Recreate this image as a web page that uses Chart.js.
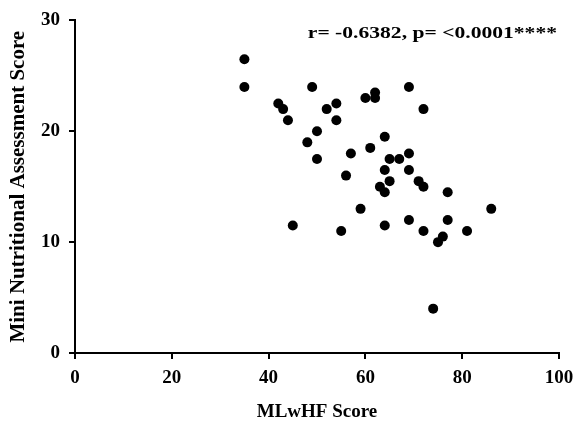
<!DOCTYPE html>
<html>
<head>
<meta charset="utf-8">
<script src="https://cdn.jsdelivr.net/npm/chart.js@4"></script>
<style>
  html, body { margin: 0; padding: 0; background: #fff; }
  #wrap { width: 573px; height: 423px; position: relative; }
</style>
</head>
<body>
<div id="wrap"><canvas id="scatterChart"></canvas></div>
<script>
// MLwHF score (x) vs Mini Nutritional Assessment score (y)
const mlwhfScores = [35, 35, 49, 42, 43, 44, 52, 54, 54, 60, 50, 48, 50, 57, 56, 61,
    62, 62, 69, 72, 64, 65, 67, 69, 64, 69, 65, 71, 63, 64, 72, 77,
    59, 86, 64, 69, 72, 77, 81, 76, 75, 74, 45, 55];
const mnaScores = [26.5, 24, 24, 22.5, 22, 21, 22, 22.5, 21, 23, 20, 19, 17.5, 18, 16, 18.5,
    23.5, 23, 24, 22, 19.5, 17.5, 17.5, 18, 16.5, 16.5, 15.5, 15.5, 15, 14.5, 15, 14.5,
    13, 13, 11.5, 12, 11, 12, 11, 10.5, 10, 4, 11.5, 11];
const xTicks = [0, 20, 40, 60, 80, 100];
const yTicks = [0, 10, 20, 30];
const statsLabel = 'r= -0.6382, p= <0.0001****';

const serif = '"Liberation Serif", "DejaVu Serif", serif';

// draws the correlation text in the top right corner of the plot (stretched a bit sideways like the original)
const statsText = {
    id: 'statsText',
    afterDraw(chart) {
        const { ctx, chartArea } = chart;
        ctx.save();
        ctx.font = 'bold 17px ' + serif;
        ctx.fillStyle = '#000';
        ctx.textAlign = 'right';
        ctx.textBaseline = 'alphabetic';
        ctx.translate(chartArea.right - 2, chartArea.top + 18);
        ctx.scale(1.27, 1);
        ctx.fillText(statsLabel, 0, 0);
        ctx.restore();
    }
};

document.addEventListener('DOMContentLoaded', () => {
    const ctx = document.getElementById('scatterChart').getContext('2d');
    new Chart(ctx, {
        type: 'scatter',
        data: {
            datasets: [{
                data: mlwhfScores.map((x, i) => ({ x: x, y: mnaScores[i] })),
                backgroundColor: '#000',
                borderColor: '#000',
                borderWidth: 0,
                pointRadius: 5,
                pointHoverRadius: 5
            }]
        },
        options: {
            responsive: true,
            maintainAspectRatio: false,
            animation: false,
            layout: { padding: { left: 0, right: 0, top: 20, bottom: 0 } },
            plugins: {
                legend: { display: false },
                tooltip: { enabled: false }
            },
            scales: {
                x: {
                    type: 'linear',
                    min: 0,
                    max: 100,
                    afterBuildTicks: (axis) => { axis.ticks = xTicks.map(v => ({ value: v })); },
                    afterFit: (axis) => {
                        axis.height = 70;
                        axis.paddingLeft = 0;
                        axis.paddingRight = 14;
                    },
                    border: { display: true, color: '#000', width: 2 },
                    grid: { display: true, drawOnChartArea: false, drawTicks: true, tickLength: 6, color: '#000', lineWidth: 2 },
                    ticks: { color: '#000', padding: 8, font: { family: serif, size: 19, weight: 'bold' } },
                    title: {
                        display: true,
                        text: 'MLwHF Score',
                        color: '#000',
                        padding: { top: 4, bottom: 0 },
                        font: { family: serif, size: 19, weight: 'bold' }
                    }
                },
                y: {
                    type: 'linear',
                    min: 0,
                    max: 30,
                    afterBuildTicks: (axis) => { axis.ticks = yTicks.map(v => ({ value: v })); },
                    afterFit: (axis) => { axis.width = 75; },
                    border: { display: true, color: '#000', width: 2 },
                    grid: { display: true, drawOnChartArea: false, drawTicks: true, tickLength: 6, color: '#000', lineWidth: 2 },
                    ticks: { color: '#000', padding: 9, font: { family: serif, size: 19, weight: 'bold' } },
                    title: {
                        display: true,
                        text: 'Mini Nutritional Assessment Score',
                        color: '#000',
                        padding: { top: 6, bottom: 4 },
                        font: { family: serif, size: 21, weight: 'bold' }
                    }
                }
            }
        },
        plugins: [statsText]
    });
});
</script>
</body>
</html>
